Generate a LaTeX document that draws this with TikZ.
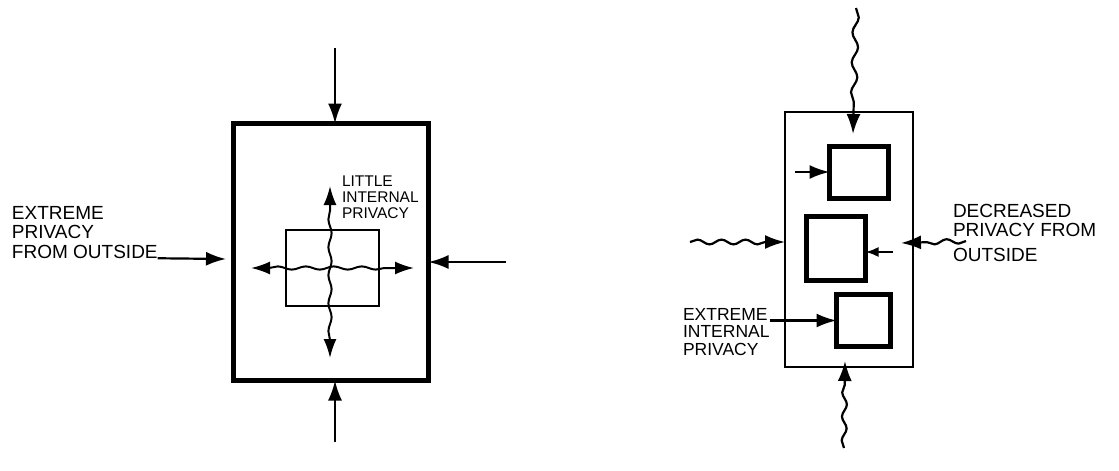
\documentclass[tikz,border=0pt]{standalone}
\usepackage{fontspec}
\setmainfont{Liberation Sans}
\usetikzlibrary{arrows.meta,decorations.pathmorphing}
\begin{document}
\begin{tikzpicture}[x=1pt,y=-1pt,
  thickbox/.style={draw,line width=4.5pt,inner sep=0pt,outer sep=0pt},
  thinbox/.style={draw,line width=2pt,inner sep=0pt,outer sep=0pt},
  arr/.style={line width=2.2pt,-{Latex[length=20pt,width=14pt]}},
  sarr/.style={line width=2.2pt,-{Latex[length=13pt,width=10pt]}},
  bigwave/.style={decorate,decoration={snake,amplitude=3pt,segment length=30pt,post length=20pt}},
  wave/.style={decorate,decoration={snake,amplitude=2.4pt,segment length=24pt,post length=20pt}},
  bothwave/.style={decorate,decoration={snake,amplitude=1.6pt,segment length=28pt,pre length=18pt,post length=18pt}},
  biarr/.style={line width=2pt,{Latex[length=19pt,width=13pt]}-{Latex[length=19pt,width=13pt]}},
  lbl/.style={align=left,inner sep=0pt,outer sep=0pt,anchor=north west}]
\useasboundingbox (0,0) rectangle (1119,471);

% ---------- left diagram ----------
\node[thickbox,minimum width=195pt,minimum height=257pt] (A) at (331,252) {};
\node[thinbox,minimum width=93pt,minimum height=76pt] (B) at (332.5,268) {};

\coordinate (atop) at (335,48);
\coordinate (abot) at (335,442);
\coordinate (aright) at (506,262);
\coordinate (vup) at (330,186);
\coordinate (vdn) at (330,358);
\coordinate (hl) at (251,268);
\coordinate (hr) at (414,268);

\draw[arr] (atop) -- (atop |- A.north);
\draw[arr] (abot) -- (abot |- A.south);
\draw[arr] (aright) -- (aright -| A.east);

\draw[biarr,bothwave] (hl) -- (hr);
\draw[biarr,bothwave] (vdn) -- (vup);

\node[lbl,font=\fontsize{19}{19.5}\selectfont] (L1) at (12,206) {EXTREME\\PRIVACY\\FROM OUTSIDE};
\coordinate (l1tip) at (226,259);
\draw[arr] (L1.south east) -- (l1tip);

\node[lbl,font=\fontsize{15.5}{16}\selectfont] (L2) at (342,176) {LITTLE\\INTERNAL\\PRIVACY};

% ---------- right diagram ----------
\node[thinbox,minimum width=128pt,minimum height=255pt] (C) at (849,239.5) {};
\node[thickbox,minimum width=59pt,minimum height=52pt] (D1) at (859,172.5) {};
\node[thickbox,minimum width=59pt,minimum height=64pt] (D2) at (836,248.5) {};
\node[thickbox,minimum width=54pt,minimum height=52pt] (D3) at (863.5,320.5) {};

\coordinate (rtop) at (856,8);
\coordinate (rtoptip) at (853,134);
\draw[arr,bigwave] (rtop) -- (rtoptip);

\coordinate (rbot) at (844,448);
\coordinate (rbottip) at (845,361);
\draw[arr,wave] (rbot) -- (rbottip);

\coordinate (rleft) at (690,242);
\draw[arr,wave] (rleft) -- (rleft -| C.west);

\coordinate (rright) at (966,241);
\coordinate (rrighttip) at (901,243);
\draw[arr,wave] (rright) -- (rrighttip);

\coordinate (d1tail) at (795,172);
\draw[arr] (d1tail) -- (d1tail -| D1.west);

\coordinate (d2tail) at (893,252);
\draw[sarr] (d2tail) -- (d2tail -| D2.east);

\node[lbl,font=\fontsize{19}{19}\selectfont] (L3) at (953,204) {DECREASED\\PRIVACY FROM\\[6pt]OUTSIDE};

\node[lbl,font=\fontsize{17.5}{17.5}\selectfont] (L4) at (683,308) {EXTREME\\INTERNAL\\PRIVACY};
\draw[arr] (L4.east |- D3.west) -- (D3.west);
\end{tikzpicture}
\end{document}
